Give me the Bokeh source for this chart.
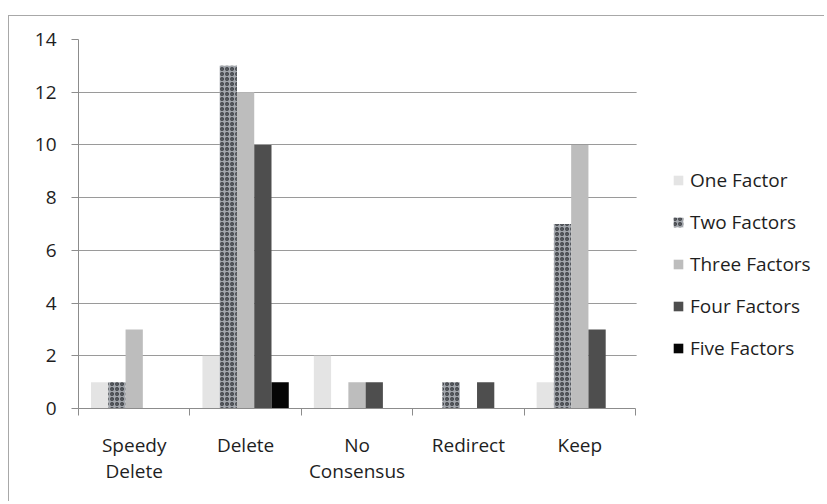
from bokeh.plotting import figure
from bokeh.models import (Range1d, FixedTicker, Legend, LegendItem, ColumnDataSource, BoxAnnotation)
from bokeh.transform import dodge
from bokeh.embed import file_html
from bokeh.resources import INLINE

# ---- data ----
categories = ["Speedy Delete", "Delete", "No Consensus", "Redirect", "Keep"]
tick_labels = ["Speedy\nDelete", "Delete", "No\nConsensus", "Redirect", "Keep"]
series_names = ["One Factor", "Two Factors", "Three Factors", "Four Factors", "Five Factors"]
one_factor = [1, 2, 2, 0, 1]
two_factors = [1, 13, 0, 1, 7]
three_factors = [3, 12, 1, 0, 10]
four_factors = [0, 10, 1, 1, 3]
five_factors = [0, 1, 0, 0, 0]
y_ticks = [0, 2, 4, 6, 8, 10, 12, 14]

FONT = "Open Sans"
TEXT = "#1e1e1e"
GRID = "#9a9a9a"

n = len(categories)
xs = [i + 0.5 for i in range(n)]
src = ColumnDataSource(dict(x=xs, one=one_factor, two=two_factors, three=three_factors,
                            four=four_factors, five=five_factors))

# plot area spans 557 px for the categories; the frame extends to the right edge
W, H = 816, 486
LEFT, TOP, BOTTOM = 69, 23, 94
frame_w = W - LEFT
x_end = n * frame_w / 557.0

p = figure(width=W, height=H, output_backend="svg", toolbar_location=None,
           x_range=Range1d(0, x_end), y_range=Range1d(0, 14),
           min_border_left=LEFT, min_border_right=0, min_border_top=TOP, min_border_bottom=BOTTOM)
p.styles = {"margin-top": "15px", "margin-left": "8px",
            "border-left": "1px solid #a8a8a8", "border-top": "1px solid #a8a8a8"}
p.outline_line_color = None
p.background_fill_color = "white"
p.border_fill_color = "white"

bw = 0.155
offsets = [-2 * bw, -bw, 0, bw, 2 * bw]
styles = [
    dict(fill_color="#e4e4e4"),
    dict(fill_color="#a3a7ad", hatch_pattern="ring", hatch_color="#3e4146", hatch_scale=5, hatch_weight=1.4),
    dict(fill_color="#bdbdbd"),
    dict(fill_color="#4e4e4e"),
    dict(fill_color="#050505"),
]
cols = ["one", "two", "three", "four", "five"]
items = []
for name, col, off, st in zip(series_names, cols, offsets, styles):
    r = p.vbar(x=dodge("x", off, range=p.x_range), top=col, width=bw, bottom=0,
               source=src, line_color=None, **st)
    items.append(LegendItem(label=name, renderers=[r]))

# y axis
p.yaxis.ticker = FixedTicker(ticks=y_ticks)
p.yaxis.axis_line_color = "#8c8c8c"
p.yaxis.major_tick_line_color = "#8c8c8c"
p.yaxis.major_tick_out = 7
p.yaxis.major_tick_in = 0
p.yaxis.minor_tick_line_color = None
p.yaxis.major_label_standoff = 15
p.yaxis.major_label_text_font = FONT
p.yaxis.major_label_text_font_size = "19px"
p.yaxis.major_label_text_color = TEXT

# x axis: labels at category centres, tick marks at boundaries
p.xaxis.bounds = (0, n)
p.xaxis.ticker = FixedTicker(ticks=xs, minor_ticks=list(range(n + 1)))
p.xaxis.major_label_overrides = {x: lab for x, lab in zip(xs, tick_labels)}
p.xaxis.axis_line_color = "#8c8c8c"
p.xaxis.major_tick_line_color = None
p.xaxis.major_tick_out = 0
p.xaxis.major_tick_in = 0
p.xaxis.minor_tick_line_color = "#8c8c8c"
p.xaxis.minor_tick_out = 7
p.xaxis.minor_tick_in = 0
p.xaxis.major_label_standoff = 16
p.xaxis.major_label_text_font = FONT
p.xaxis.major_label_text_font_size = "19px"
p.xaxis.major_label_text_color = TEXT
p.xaxis.major_label_text_line_height = 1.0

p.xgrid.grid_line_color = None
p.ygrid.ticker = FixedTicker(ticks=y_ticks)
p.ygrid.grid_line_color = GRID
p.ygrid.grid_line_width = 1.2

# blank out the gridlines to the right of the category area (legend area)
cover = BoxAnnotation(left=n + 0.01, fill_color="white", fill_alpha=1.0,
                      line_color=None, level="underlay")
p.add_layout(cover)

legend = Legend(items=items, location=(594, 47), orientation="vertical",
                glyph_width=12, glyph_height=12, label_height=20, spacing=16,
                label_standoff=6, padding=0, margin=0,
                border_line_color=None, background_fill_alpha=0,
                label_text_font=FONT, label_text_font_size="19px", label_text_color=TEXT)
p.add_layout(legend, "center")

open("out.html", "w").write(file_html(p, INLINE))
